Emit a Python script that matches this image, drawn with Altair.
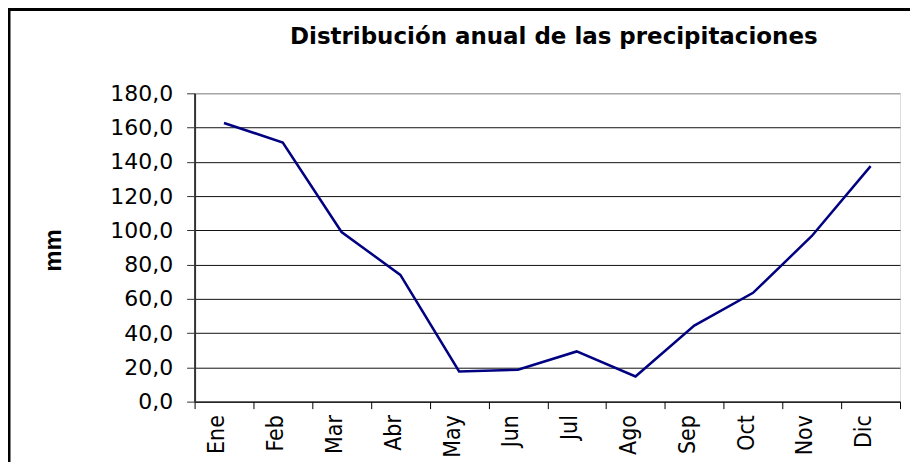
import altair as alt
import pandas as pd

months = ["Ene", "Feb", "Mar", "Abr", "May", "Jun", "Jul", "Ago", "Sep", "Oct", "Nov", "Dic"]
precip = [162.7, 151.3, 99.0, 74.0, 17.6, 18.6, 29.3, 14.7, 44.4, 63.5, 96.7, 137.5]
y_ticks = [0, 20, 40, 60, 80, 100, 120, 140, 160, 180]
title_text = "Distribución anual de las precipitaciones"
y_title = "mm"

df = pd.DataFrame({"mes": months, "mm": precip})

W, H = 707, 309
PAD_L, PAD_T, PAD_R, PAD_B = 187, 85, 10, 60

x_enc = alt.X(
    "mes:N",
    sort=months,
    bandPosition=0.5,
    scale=alt.Scale(type="band", paddingInner=0, paddingOuter=0),
    axis=alt.Axis(
        title=None,
        labelAngle=270,
        labelAlign="right",
        labelBaseline="alphabetic",
        labelFont="Liberation Sans Narrow, DejaVu Sans Condensed, Liberation Sans",
        labelFontSize=23,
        labelColor="black",
        labelPadding=6,
        tickBand="extent",
        tickSize=7,
        tickColor="black",
        domainColor="black",
        domainWidth=1,
        grid=False,
    ),
)

y_enc = alt.Y(
    "mm:Q",
    scale=alt.Scale(domain=[0, 180], nice=False, zero=True),
    axis=alt.Axis(
        values=y_ticks,
        title=y_title,
        titleFont="Liberation Sans, Arial",
        titleFontWeight="bold",
        titleFontSize=24,
        titleColor="black",
        titleAngle=270,
        titleAlign="center",
        titleBaseline="middle",
        titleX=-141,
        titleY=157,
        labelExpr="replace(format(datum.value, '.1f'), '.', ',')",
        labelFont="DejaVu Sans",
        labelFontSize=22,
        labelColor="black",
        labelPadding=14,
        tickSize=8,
        tickColor="#333333",
        domainColor="#333333",
        domainWidth=2,
        grid=True,
        gridColor={"condition": {"test": "datum.value === 180", "value": "#888888"}, "value": "#111111"},
        gridWidth=1,
    ),
)

line = alt.Chart(df).mark_line(color="#000080", strokeWidth=2.5).encode(x=x_enc, y=y_enc)

frame = alt.Chart(alt.Data(values=[{}])).mark_rect(
    filled=False, stroke="black", strokeWidth=3
).encode(
    x=alt.value(-PAD_L + 1),
    x2=alt.value(W + 200),
    y=alt.value(-PAD_T + 1),
    y2=alt.value(H + 200),
)

title = alt.Chart(alt.Data(values=[{"t": title_text}])).mark_text(
    font="DejaVu Sans",
    fontWeight="bold",
    fontSize=23,
    color="black",
    align="center",
    baseline="alphabetic",
).encode(
    text="t:N",
    x=alt.value(360),
    y=alt.value(-49),
)

chart = alt.layer(line, frame, title).properties(
    width=W,
    height=H,
    padding={"left": PAD_L, "top": PAD_T, "right": PAD_R, "bottom": PAD_B},
    autosize=alt.AutoSizeParams(type="none"),
).configure_view(
    stroke="#888888", strokeWidth=2
).configure(background="white")

chart.save("out.html", embed_options={"renderer": "svg", "actions": False})
